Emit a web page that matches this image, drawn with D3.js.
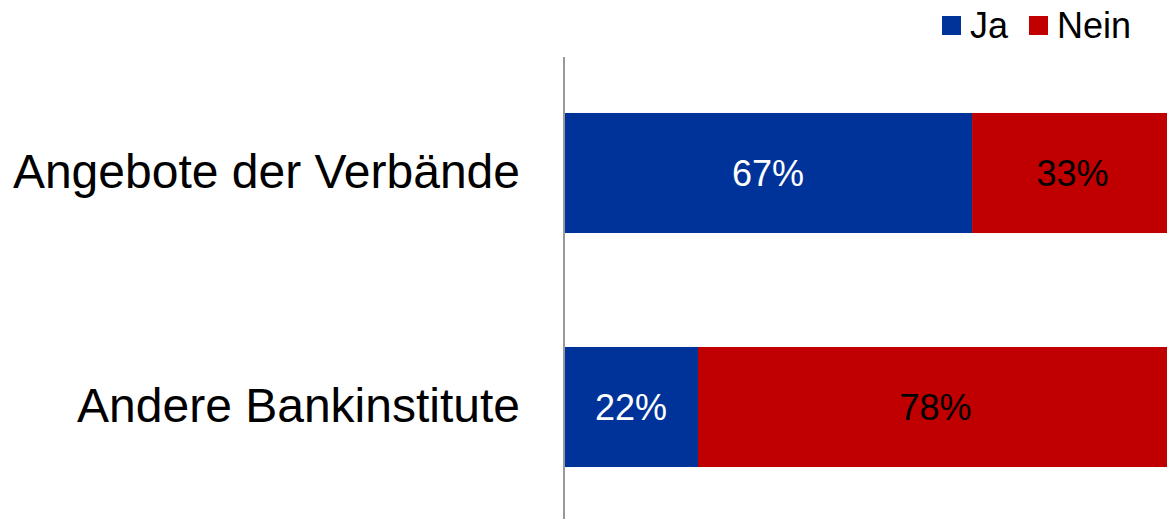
<!DOCTYPE html>
<html><head><meta charset="utf-8">
<script src="https://cdn.jsdelivr.net/npm/d3@7"></script>
<style>body{margin:0;background:#fff}svg{display:block}text{font-family:"Liberation Sans",Arial,sans-serif}</style>
</head><body>
<svg id="c" width="1167" height="519"></svg>
<script>
const categories = ["Angebote der Verbände", "Andere Bankinstitute"];
const seriesNames = ["Ja", "Nein"];
const ja = [67, 22];
const nein = [33, 78];
const colors = ["#003399", "#C00000"];
const labelColors = ["#ffffff", "#000000"];

const svg = d3.select("#c");
const x = d3.scaleLinear().domain([0, 100]).range([564, 1173]);
const y = d3.scaleBand().domain(categories).range([56, 524]).paddingInner(0.487).paddingOuter(0.2435);

const rows = categories.map((c, i) => ({cat: c, vals: [ja[i], nein[i]]}));
const stacked = d3.stack().keys([0, 1]).value((d, k) => d.vals[k])(rows);

stacked.forEach((layer, k) => {
  const g = svg.append("g");
  g.selectAll("rect").data(layer).join("rect")
    .attr("x", d => x(d[0])).attr("width", d => x(d[1]) - x(d[0]))
    .attr("y", d => y(d.data.cat)).attr("height", y.bandwidth())
    .attr("fill", colors[k]);
  g.selectAll("text").data(layer).join("text")
    .attr("x", d => (x(d[0]) + x(d[1])) / 2)
    .attr("y", d => y(d.data.cat) + y.bandwidth() / 2)
    .attr("text-anchor", "middle").attr("dominant-baseline", "central")
    .attr("font-size", 36).attr("fill", labelColors[k])
    .text(d => (d[1] - d[0]) + "%");
});

// axis
const axis = d3.axisLeft(y).tickSize(0).tickPadding(44);
const ag = svg.append("g").attr("transform", `translate(${x(0)},0)`).call(axis);
ag.select(".domain").attr("stroke", "#999").attr("stroke-width", 2).attr("d", `M0,${y.range()[0] + 1}V${y.range()[1]}`);
ag.selectAll(".tick text").attr("font-size", 48).attr("fill", "#000").attr("font-family", '"Liberation Sans",Arial,sans-serif');

// legend
const legX = [942, 1029];
const leg = svg.append("g");
seriesNames.forEach((s, k) => {
  leg.append("rect").attr("x", legX[k]).attr("y", 16).attr("width", 19).attr("height", 19).attr("fill", colors[k]);
  leg.append("text").attr("x", legX[k] + 28).attr("y", 25.5).attr("dominant-baseline", "central")
    .attr("font-size", 36).attr("fill", "#000").text(s);
});
</script>
</body></html>
